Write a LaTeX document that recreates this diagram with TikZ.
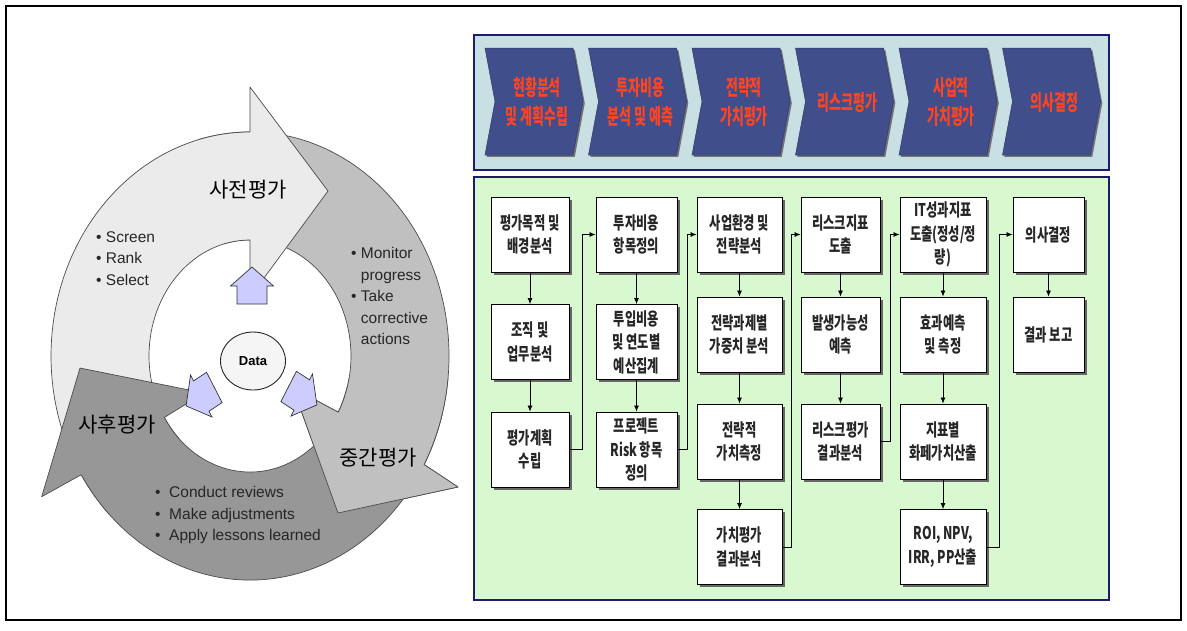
\documentclass[tikz,border=0pt]{standalone}
\usepackage{fontspec}
\setmainfont{Liberation Sans}
\newfontfamily\kr{Noto Sans CJK KR}
\newfontfamily\krc{Noto Sans CJK KR}[FakeStretch=0.70]
\newfontfamily\krch{Noto Sans CJK KR}[FakeStretch=0.60]
\usetikzlibrary{arrows.meta,shadows,shapes.geometric}
\definecolor{navy}{HTML}{1C1C6E}
\definecolor{panelblue}{HTML}{C8E0E3}
\definecolor{panelgreen}{HTML}{D8F9D0}
\definecolor{chev}{HTML}{404E8C}
\definecolor{chevtext}{HTML}{FF4422}
\definecolor{lav}{HTML}{CCCCFF}
\definecolor{gA}{HTML}{EBEBEB}
\definecolor{gB}{HTML}{C0C0C0}
\definecolor{gC}{HTML}{979797}
\tikzset{
  ringarrow/.style={draw=black!70, line width=0.7pt, line join=round},
  lavarrow/.style={draw=black!80, fill=lav, line width=0.7pt, line join=miter},
  bullets/.style={anchor=west, align=left, text=black!85, inner sep=0pt, font=\fontsize{15.5}{21.5}\selectfont},
  biglabel/.style={font=\kr\fontsize{21}{24}\selectfont, text=black, inner sep=0pt},
  stepbox/.style={draw=black, line width=0.9pt, fill=white, align=center, inner sep=1pt,
    font=\krc\bfseries\fontsize{17.5}{23.5}\selectfont, text=black!85,
    drop shadow={shadow xshift=2.5pt, shadow yshift=-2.5pt, fill=black!60, opacity=1}},
  chevshape/.style={fill=chev, draw=chev!75!black, line width=0.5pt,
    drop shadow={shadow xshift=1.8pt, shadow yshift=-1.8pt, fill=black!55, opacity=1}},
  chevlabel/.style={align=center, text=chevtext, inner sep=0pt, font=\krch\bfseries\fontsize{21.5}{29.5}\selectfont},
  arr/.style={draw=black, line width=0.7pt, -{Latex[length=6pt,width=5pt]}},
}
\def\midarrowpath{(198.5,139.6) arc[start angle=-105, end angle=29, x radius=199, y radius=224]
  -- (458,487) -- (338,513) -- (293,388) -- (338.3,412.2)
  arc[start angle=29, end angle=-105, x radius=101, y radius=116] -- cycle}
\begin{document}
\begin{tikzpicture}[x=1pt,y=-1pt]
\useasboundingbox (0,0) rectangle (1187,630);
\fill[white] (0,0) rectangle (1187,630);
\draw[line width=1.2pt] (6,6) rectangle (1181,620);

% ---------- cycle ----------
\draw[ringarrow, fill=gB] \midarrowpath;
\draw[ringarrow, fill=gA] (109.3,514.4) arc[start angle=-225, end angle=-90, x radius=199, y radius=224]
  -- (250,87) -- (328,191) -- (250,297) -- (250,240)
  arc[start angle=-90, end angle=-225, x radius=101, y radius=116] -- cycle;
\draw[ringarrow, fill=gC] (442.2,414.0) arc[start angle=15, end angle=148, x radius=199, y radius=224]
  -- (41.7,496.7) -- (80,368) -- (204,393) -- (164.3,417.5)
  arc[start angle=148, end angle=15, x radius=101, y radius=116] -- cycle;
\begin{scope}
  \clip (285,378) rectangle (475,535);
  \draw[ringarrow, fill=gB] \midarrowpath;
\end{scope}

% small arrows around Data
\draw[lavarrow] (237,304) -- (237,286) -- (230.5,286) -- (252,267) -- (273.5,286) -- (267,286) -- (267,304) -- cycle;
\draw[lavarrow] (296.4,371.3) -- (309.5,379.8) -- (312.5,374) -- (316.9,404.9) -- (291,416.1) -- (294,410.2) -- (280.9,401.6) -- cycle;
\draw[lavarrow] (206.6,372.3) -- (193.5,380.9) -- (190.5,375) -- (186.1,405.9) -- (212,417) -- (209,411.2) -- (222.1,402.6) -- cycle;

\node[ellipse, draw=black!85, line width=0.9pt, fill=black!4, minimum width=65pt, minimum height=58pt,
  font=\bfseries\fontsize{13}{15}\selectfont] (data) at (253,361) {Data};

\node[biglabel] (pre) at (248,190) {사전평가};
\node[biglabel] (mid) at (378,458) {중간평가};
\node[biglabel] (post) at (117,425) {사후평가};

\node[bullets] (l1) at (96,258.5) {• Screen\\• Rank\\• Select};
\node[bullets] (l2) at (351,296) {• Monitor\\\hphantom{•\ }progress\\• Take\\\hphantom{•\ }corrective\\\hphantom{•\ }actions};
\node[bullets] (l3) at (155,515) {•\ \ Conduct reviews\\•\ \ Make adjustments\\•\ \ Apply lessons learned};

% ---------- right panels ----------
\draw[navy, line width=1.8pt, fill=panelblue] (474,35) rectangle (1109,170);
\draw[navy, line width=1.8pt, fill=panelgreen] (474,177) rectangle (1109,600);

\foreach \L/\t [count=\i] in {485/{현황분석\\및\ 계획수립}, 588.5/{투자비용\\분석\ 및\ 예측}, 692/{전략적\\가치평가},
   795.5/{리스크평가}, 899/{사업적\\가치평가}, 1002.5/{의사결정}}{
  \path[chevshape] (\L,48) -- (\L+88,48) -- (\L+98,101.5) -- (\L+88,155) -- (\L,155) -- (\L+10,101.5) -- cycle;
  \node[chevlabel] (ch\i) at (\L+52,102) {\t};
}

% boxes
\node[stepbox, minimum width=78pt, minimum height=75pt] (c1r1) at (530,234.5) {평가목적 및\\배경분석};
\node[stepbox, minimum width=78pt, minimum height=75pt] (c1r2) at (530,342) {조직 및\\업무분석};
\node[stepbox, minimum width=78pt, minimum height=75pt] (c1r3) at (530,449.5) {평가계획\\수립};

\node[stepbox, minimum width=81pt, minimum height=75pt] (c2r1) at (636.5,234.5) {투자비용\\항목정의};
\node[stepbox, minimum width=81pt, minimum height=75pt] (c2r2) at (636.5,342) {투입비용\\및 연도별\\예산집계};
\node[stepbox, minimum width=81pt, minimum height=75pt] (c2r3) at (636.5,449.5) {프로젝트\\Risk 항목\\정의};

\node[stepbox, minimum width=85pt, minimum height=75pt] (c3r1) at (739.5,234.5) {사업환경 및\\전략분석};
\node[stepbox, minimum width=85pt, minimum height=75pt] (c3r2) at (739.5,334.5) {전략과제별\\가중치 분석};
\node[stepbox, minimum width=85pt, minimum height=75pt] (c3r3) at (739.5,441.5) {전략적\\가치측정};
\node[stepbox, minimum width=85pt, minimum height=75pt] (c3r4) at (739.5,547) {가치평가\\결과분석};

\node[stepbox, minimum width=79pt, minimum height=75pt] (c4r1) at (840.5,234.5) {리스크지표\\도출};
\node[stepbox, minimum width=79pt, minimum height=75pt] (c4r2) at (840.5,334.5) {발생가능성\\예측};
\node[stepbox, minimum width=79pt, minimum height=75pt] (c4r3) at (840.5,441.5) {리스크평가\\결과분석};

\node[stepbox, minimum width=86pt, minimum height=75pt] (c5r1) at (943,234.5) {IT성과지표\\도출(정성/정\\량)};
\node[stepbox, minimum width=86pt, minimum height=75pt] (c5r2) at (943,334.5) {효과예측\\및 측정};
\node[stepbox, minimum width=86pt, minimum height=75pt] (c5r3) at (943,441.5) {지표별\\화페가치산출};
\node[stepbox, minimum width=86pt, minimum height=75pt] (c5r4) at (943,547) {ROI, NPV,\\IRR, PP산출};

\node[stepbox, minimum width=71pt, minimum height=75pt] (c6r1) at (1048.5,234.5) {의사결정};
\node[stepbox, minimum width=71pt, minimum height=75pt] (c6r2) at (1048.5,334.5) {결과 보고};

% connectors
\draw[arr] (c1r1.south) -- (c1r2.north);
\draw[arr] (c1r2.south) -- (c1r3.north);
\draw[arr] (c2r1.south) -- (c2r2.north);
\draw[arr] (c2r2.south) -- (c2r3.north);
\draw[arr] (c3r1.south) -- (c3r2.north);
\draw[arr] (c3r2.south) -- (c3r3.north);
\draw[arr] (c3r3.south) -- (c3r4.north);
\draw[arr] (c4r1.south) -- (c4r2.north);
\draw[arr] (c4r2.south) -- (c4r3.north);
\draw[arr] (c5r1.south) -- (c5r2.north);
\draw[arr] (c5r2.south) -- (c5r3.north);
\draw[arr] (c5r3.south) -- (c5r4.north);
\draw[arr] (c6r1.south) -- (c6r2.north);

\draw[arr] (c1r3.east) -- ++(13,0) |- (c2r1.west);
\draw[arr] (c2r3.east) -- ++(10,0) |- (c3r1.west);
\draw[arr] (c3r4.east) -- ++(9,0) |- (c4r1.west);
\draw[arr] (c4r3.east) -- ++(10,0) |- (c5r1.west);
\draw[arr] (c5r4.east) -- ++(13,0) |- (c6r1.west);
\end{tikzpicture}
\end{document}
